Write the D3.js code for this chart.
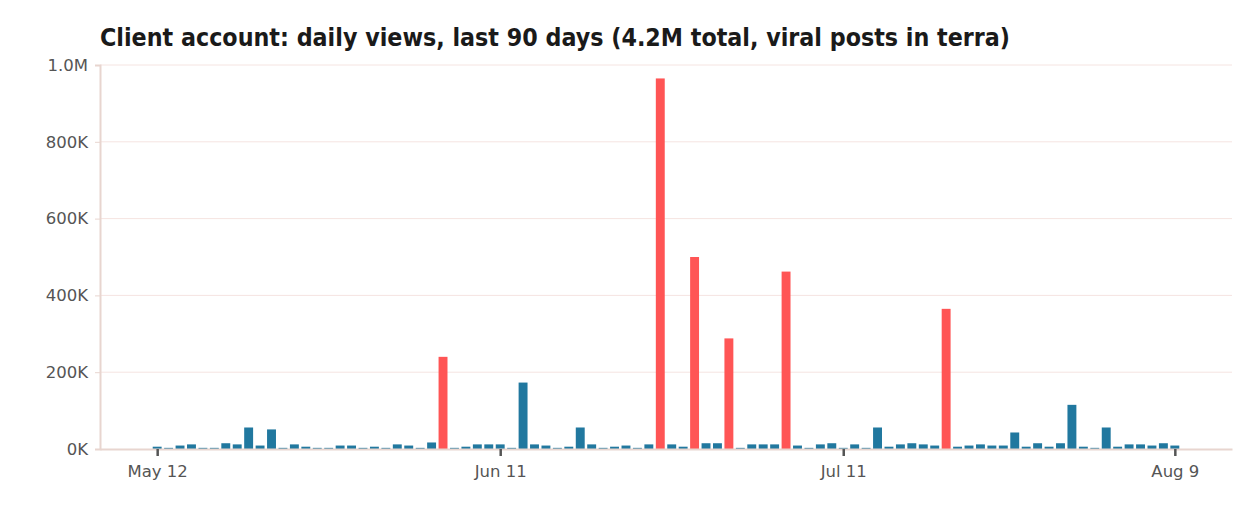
<!DOCTYPE html>
<html>
<head>
<meta charset="utf-8">
<script src="https://cdn.jsdelivr.net/npm/d3@7"></script>
<style>
  body { margin: 0; background: #fff; }
  text { font-family: "DejaVu Sans", "Noto Sans", sans-serif; }
</style>
</head>
<body>
<script>
var startDay = "2024-05-12";
// daily views in thousands, May 12 .. Aug 9
var views = [6,3,9,12,3,3,15,12,56,9,51,3,12,6,3,3,9,9,3,6,3,12,9,3,17,240,3,6,12,12,12,
  3,173,12,9,3,6,56,12,3,6,9,3,12,965,12,6,500,15,15,288,3,12,12,12,462,9,3,12,15,3,
  12,3,56,6,12,15,12,9,365,6,9,12,9,9,43,6,15,6,15,115,6,3,56,6,12,12,9,15,9];
var viralDays = [25, 44, 47, 50, 55, 69];
var xTickLabels = ["May 12", "Jun 11", "Jul 11", "Aug 9"];
var yTicks = [0, 200, 400, 600, 800, 1000];

var width = 1258, height = 510;
var m = { left: 100, right: 26, top: 65, bottom: 61 };

var parse = d3.utcParse("%Y-%m-%d");
var t0 = parse(startDay);
var data = views.map(function(v, i) {
  return { date: d3.utcDay.offset(t0, i), v: v, viral: viralDays.indexOf(i) >= 0 };
});

var svg = d3.select("body").append("svg").attr("width", width).attr("height", height);

var x = d3.scaleUtc()
  .domain([d3.utcDay.offset(t0, -4.9), d3.utcDay.offset(t0, 94.0)])
  .range([m.left, width - m.right]);
var y = d3.scaleLinear().domain([0, 1000]).range([height - m.bottom, m.top]);
var dayW = x(d3.utcDay.offset(t0, 1)) - x(t0);
var barW = dayW * 0.78;

svg.append("g").selectAll("line").data(yTicks.slice(1)).enter().append("line")
  .attr("x1", m.left).attr("x2", width - m.right)
  .attr("y1", function(d) { return y(d); }).attr("y2", function(d) { return y(d); })
  .attr("stroke", "#f5e4e1").attr("stroke-width", 1);

svg.append("g").selectAll("rect").data(data).enter().append("rect")
  .attr("x", function(d) { return x(d.date) - barW / 2; })
  .attr("width", barW)
  .attr("y", function(d) { return y(d.v); })
  .attr("height", function(d) { return y(0) - y(d.v); })
  .attr("fill", function(d) { return d.viral ? "#ff5555" : "#21789f"; });

var yAxis = svg.append("g").attr("transform", "translate(" + m.left + ",0)")
  .call(d3.axisLeft(y).tickValues(yTicks).tickSize(5)
    .tickFormat(function(d) { return d === 1000 ? "1.0M" : d + "K"; }));
yAxis.select(".domain").attr("stroke", "#e8d5cf").attr("stroke-width", 2);
yAxis.selectAll(".tick line").attr("stroke", "#e8d5cf");
yAxis.selectAll("text").attr("font-size", 16.5).attr("fill", "#555").attr("dx", -4);

var tickDates = [0, 30, 60, 89].map(function(i) { return d3.utcDay.offset(t0, i); });
var xAxis = svg.append("g").attr("transform", "translate(0," + y(0) + ")")
  .call(d3.axisBottom(x).tickValues(tickDates).tickSize(7).tickSizeOuter(0)
    .tickFormat(function(d, i) { return xTickLabels[i]; }));
xAxis.select(".domain").attr("stroke", "#e8d5cf").attr("stroke-width", 2);
xAxis.selectAll(".tick line").attr("stroke", "#555").attr("stroke-width", 2.5);
xAxis.selectAll("text").attr("font-size", 16.5).attr("fill", "#555").attr("dy", "1.1em");

svg.append("text").attr("x", m.left).attr("y", 46)
  .attr("font-size", 24).attr("font-weight", "bold")
  .attr("font-family", "Lato, 'Open Sans', sans-serif")
  .attr("textLength", 910).attr("lengthAdjust", "spacingAndGlyphs")
  .attr("fill", "#1a1a1a")
  .text("Client account: daily views, last 90 days (4.2M total, viral posts in terra)");
</script>
</body>
</html>
